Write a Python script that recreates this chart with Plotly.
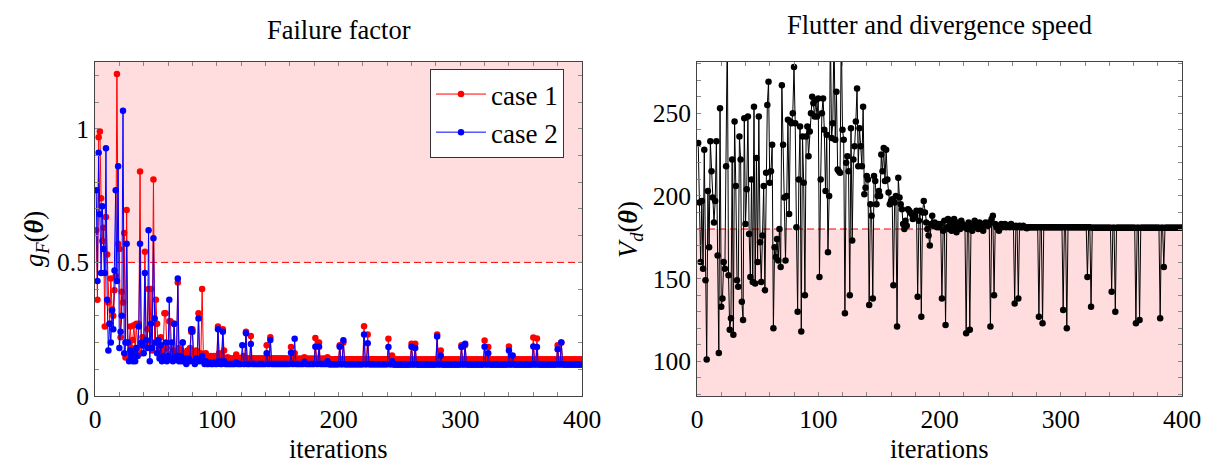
import plotly.graph_objects as go

# ---------------- data ----------------
iterations = list(range(1, 401))

case1_gF = [float(v) for v in """
0.62 0.36 0.968 0.99 0.74 0.58 0.63 0.26 0.67 0.53 0.35 0.27 0.44 0.325 0.30 0.396 0.45 1.205 0.57 0.55
0.22 0.39 0.35 0.61 0.144 0.696 0.15 0.20 0.26 0.18 0.21 0.265 0.17 0.27 0.18 0.27 0.84 0.16 0.22 0.19
0.54 0.20 0.25 0.40 0.18 0.40 0.17 0.81 0.20 0.36 0.27 0.16 0.18 0.22 0.15 0.17 0.31 0.31 0.18 0.15
0.28 0.28 0.16 0.17 0.27 0.15 0.16 0.425 0.18 0.15 0.17 0.20 0.15 0.16 0.14 0.17 0.15 0.18 0.24 0.25
0.16 0.15 0.17 0.14 0.31 0.15 0.16 0.40 0.15 0.14 0.16 0.15 0.14 0.14 0.15 0.14 0.14 0.15 0.14 0.14
0.26 0.16 0.14 0.15 0.25 0.17 0.14 0.14 0.145 0.14 0.14 0.14 0.14 0.14 0.14 0.155 0.14 0.14 0.14 0.14
0.14 0.15 0.14 0.24 0.14 0.14 0.14 0.225 0.14 0.14 0.14 0.14 0.14 0.14 0.14 0.14 0.14 0.14 0.14 0.14
0.19 0.14 0.14 0.22 0.14 0.14 0.14 0.14 0.14 0.14 0.14 0.14 0.14 0.14 0.14 0.14 0.14 0.139 0.139 0.139
0.183 0.139 0.139 0.16 0.139 0.139 0.139 0.139 0.139 0.139 0.139 0.145 0.139 0.139 0.139 0.139 0.139 0.139 0.139 0.139
0.217 0.139 0.139 0.20 0.139 0.139 0.139 0.139 0.139 0.139 0.145 0.138 0.138 0.138 0.138 0.138 0.138 0.138 0.138 0.138
0.19 0.138 0.138 0.20 0.138 0.138 0.138 0.138 0.138 0.138 0.138 0.138 0.138 0.138 0.138 0.138 0.138 0.138 0.138 0.138
0.261 0.138 0.138 0.23 0.138 0.138 0.138 0.138 0.138 0.138 0.138 0.138 0.138 0.138 0.138 0.138 0.138 0.138 0.138 0.138
0.214 0.138 0.138 0.152 0.137 0.137 0.137 0.137 0.137 0.137 0.137 0.137 0.137 0.137 0.137 0.137 0.137 0.137 0.137 0.196
0.137 0.137 0.196 0.137 0.137 0.137 0.137 0.137 0.137 0.137 0.137 0.137 0.137 0.137 0.137 0.137 0.137 0.137 0.137 0.137
0.23 0.137 0.137 0.17 0.137 0.137 0.137 0.137 0.137 0.137 0.137 0.137 0.137 0.137 0.137 0.137 0.137 0.137 0.137 0.137
0.19 0.137 0.137 0.19 0.137 0.137 0.137 0.137 0.137 0.137 0.137 0.137 0.137 0.137 0.137 0.137 0.137 0.137 0.137 0.208
0.137 0.137 0.183 0.137 0.137 0.137 0.137 0.137 0.137 0.137 0.137 0.137 0.137 0.137 0.137 0.137 0.137 0.137 0.137 0.185
0.137 0.137 0.15 0.137 0.137 0.137 0.137 0.137 0.137 0.137 0.137 0.137 0.137 0.137 0.137 0.137 0.137 0.137 0.137 0.219
0.137 0.137 0.215 0.137 0.137 0.137 0.137 0.137 0.137 0.137 0.137 0.137 0.137 0.137 0.137 0.137 0.137 0.137 0.137 0.19
0.137 0.137 0.2 0.137 0.137 0.137 0.137 0.137 0.137 0.137 0.137 0.137 0.137 0.137 0.137 0.137 0.137 0.137 0.137 0.137
""".split()]

case2_gF = [float(v) for v in """
0.77 0.43 0.91 0.68 0.46 0.71 0.55 0.46 0.927 0.36 0.17 0.27 0.20 0.32 0.25 0.47 0.77 0.43 0.86 0.18
0.24 0.30 1.068 0.16 0.20 0.57 0.20 0.13 0.17 0.15 0.13 0.16 0.13 0.18 0.15 0.26 0.57 0.20 0.19 0.16
0.46 0.21 0.18 0.62 0.13 0.27 0.18 0.59 0.29 0.20 0.16 0.21 0.14 0.19 0.13 0.15 0.14 0.20 0.13 0.15
0.36 0.14 0.20 0.13 0.27 0.14 0.15 0.44 0.13 0.15 0.13 0.20 0.13 0.14 0.12 0.13 0.14 0.13 0.25 0.24
0.13 0.12 0.14 0.13 0.29 0.13 0.14 0.15 0.13 0.12 0.13 0.12 0.12 0.125 0.12 0.12 0.12 0.125 0.12 0.12
0.25 0.13 0.12 0.12 0.24 0.13 0.12 0.12 0.12 0.12 0.12 0.12 0.12 0.12 0.12 0.125 0.12 0.12 0.12 0.12
0.19 0.12 0.12 0.235 0.12 0.12 0.12 0.195 0.12 0.12 0.12 0.12 0.12 0.12 0.12 0.12 0.12 0.12 0.12 0.12
0.16 0.12 0.12 0.21 0.12 0.12 0.12 0.12 0.12 0.12 0.12 0.12 0.12 0.12 0.12 0.12 0.12 0.12 0.12 0.12
0.162 0.12 0.12 0.214 0.12 0.12 0.12 0.12 0.12 0.12 0.12 0.128 0.12 0.12 0.12 0.12 0.12 0.12 0.12 0.12
0.184 0.12 0.12 0.184 0.12 0.12 0.12 0.12 0.12 0.12 0.13 0.119 0.119 0.119 0.119 0.119 0.119 0.119 0.119 0.119
0.184 0.119 0.119 0.209 0.119 0.119 0.119 0.119 0.119 0.119 0.119 0.119 0.119 0.119 0.119 0.119 0.119 0.119 0.119 0.119
0.23 0.119 0.119 0.197 0.119 0.119 0.119 0.119 0.119 0.119 0.119 0.119 0.119 0.119 0.119 0.119 0.119 0.119 0.119 0.119
0.183 0.119 0.119 0.13 0.118 0.118 0.118 0.118 0.118 0.118 0.118 0.118 0.118 0.118 0.118 0.118 0.118 0.118 0.118 0.184
0.118 0.118 0.18 0.118 0.118 0.118 0.118 0.118 0.118 0.118 0.118 0.118 0.118 0.118 0.118 0.118 0.118 0.118 0.118 0.118
0.223 0.118 0.118 0.152 0.118 0.118 0.118 0.118 0.118 0.118 0.118 0.118 0.118 0.118 0.118 0.118 0.118 0.118 0.118 0.118
0.183 0.118 0.118 0.196 0.118 0.118 0.118 0.118 0.118 0.118 0.118 0.118 0.118 0.118 0.118 0.118 0.118 0.118 0.118 0.184
0.118 0.118 0.16 0.118 0.118 0.118 0.118 0.118 0.118 0.118 0.118 0.118 0.118 0.118 0.118 0.118 0.118 0.118 0.118 0.17
0.118 0.118 0.152 0.118 0.118 0.118 0.118 0.118 0.118 0.118 0.118 0.118 0.118 0.118 0.118 0.118 0.118 0.118 0.118 0.185
0.118 0.118 0.183 0.118 0.118 0.118 0.118 0.118 0.118 0.118 0.118 0.118 0.118 0.118 0.118 0.118 0.118 0.118 0.118 0.175
0.118 0.118 0.2 0.118 0.118 0.118 0.118 0.118 0.118 0.118 0.118 0.118 0.118 0.118 0.118 0.118 0.118 0.118 0.118 0.118
""".split()]

speed_Vd = [float(v) for v in """
232 196 160 197 156 228 149 101 203 169 233 215 199 184 197 233 164 105 253 133
138 160 156 218 300 152 119 126 222 116 245 206 149 145 236 222 136 125 247 183
204 248 177 151 210 148 254 147 223 160 248 172 148 176 206 143 214 255 269 208
215 231 120 169 163 174 161 180 157 267 231 199 161 200 246 189 245 244 250 278
244 181 130 210 242 118 236 208 140 236 242 224 239 250 260 256 248 258 248 259
151 210 250 259 240 203 237 166 200 300 235 244 300 234 263 216 215 214 300 240
234 129 220 224 215 140 241 173 222 230 245 265 218 241 230 218 254 201 205 212
210 134 195 188 138 212 209 195 200 203 200 225 215 229 209 228 210 202 195 197
198 146 196 200 121 211 199 195 192 183 180 185 182 192 191 190 189 186 187 188
191 139 185 191 127 190 197 190 184 180 176 170 183 188 182 184 182 181 183 181
183 138 179 185 122 181 186 180 184 179 183 186 181 178 184 182 180 185 183 181
182 117 180 184 119 182 179 183 185 181 182 180 184 183 181 179 182 184 183 182
184 121 186 188 140 183 181 182 179 182 183 181 182 183 181 182 182 181 183 182
181 135 182 181 138 182 181 181 182 181 181 180.5 181 181 181 181 181 181 181 181
181 127 181 181 123 181 181 181 181 181 181 181 181 181 181 181 181 181 181 181
181 131 181 181 120 181 181 181 181 181 181 181 181 181 181 181 181 181 181 181
181 151 181 181 133 180.8 180.8 180.8 180.8 180.8 180.8 180.8 180.8 180.8 180.8 180.8 180.8 180.8 180.8 180.8
180.8 142 180.8 180.8 130 180.8 180.8 180.8 180.8 180.8 180.8 180.8 180.8 180.8 180.8 180.8 180.8 180.8 180.8 180.8
180.8 123 180.8 180.8 125 180.8 180.8 180.8 180.8 180.8 180.8 180.8 180.8 180.8 180.8 180.8 180.8 180.8 180.8 180.8
180.8 126 180.8 180.8 157 180.8 180.8 180.8 180.8 180.8 180.8 180.8 180.8 180.8 180.8 180.8 180.8 180.8 180.8 180.8
""".split()]

gF_limit = 0.5
Vd_limit = 180

# ---------------- figure ----------------
W, H = 1205, 465
FONT = "Liberation Serif, Times New Roman, serif"
PINK = "rgb(255,221,222)"
FS_TICK = 25.5
FS_TEXT = 26.5
FS_LEG = 27

def px_x(p):
    return p / W

def px_y(p):
    return 1 - p / H

fig = go.Figure()
fig.add_trace(go.Scatter(x=iterations, y=case1_gF, mode="lines+markers", name="case 1",
                         line=dict(color="#ff0000", width=1), marker=dict(color="#ff0000", size=6.5),
                         xaxis="x", yaxis="y"))
fig.add_trace(go.Scatter(x=iterations, y=case2_gF, mode="lines+markers", name="case 2",
                         line=dict(color="#0000ff", width=1), marker=dict(color="#0000ff", size=6.5),
                         xaxis="x", yaxis="y"))
fig.add_trace(go.Scatter(x=iterations, y=speed_Vd, mode="lines+markers", showlegend=False,
                         line=dict(color="#000000", width=1), marker=dict(color="#000000", size=6.5),
                         xaxis="x2", yaxis="y2"))

axis_common = dict(showline=True, linecolor="#444444", linewidth=1, mirror="allticks",
                   ticks="inside", ticklen=4, tickcolor="#888888", tickwidth=1,
                   showgrid=False, zeroline=False, automargin=False,
                   tickfont=dict(family=FONT, size=FS_TICK, color="black"))

ydom = [px_y(396), px_y(62)]
fig.update_layout(
    width=W, height=H, margin=dict(l=0, r=0, t=0, b=0, autoexpand=False),
    paper_bgcolor="white", plot_bgcolor="white",
    xaxis=dict(domain=[px_x(95), px_x(582)], range=[0, 400], tick0=0, dtick=100, anchor="y",
               minor=dict(dtick=20, ticks="inside", ticklen=4, tickcolor="#888888", showgrid=False),
               **axis_common),
    yaxis=dict(domain=ydom, range=[0, 1.25], tick0=0, dtick=0.5, anchor="x",
               minor=dict(dtick=0.1, ticks="inside", ticklen=4, tickcolor="#888888", showgrid=False),
               **axis_common),
    xaxis2=dict(domain=[px_x(697), px_x(1182)], range=[0, 400], tick0=0, dtick=100, anchor="y2",
                minor=dict(dtick=20, ticks="inside", ticklen=4, tickcolor="#888888", showgrid=False),
                **axis_common),
    yaxis2=dict(domain=ydom, range=[79, 281], tick0=0, dtick=50, anchor="x2",
                minor=dict(dtick=10, ticks="inside", ticklen=4, tickcolor="#888888", showgrid=False),
                **axis_common),
    legend=dict(x=px_x(564), y=px_y(69), xanchor="right", yanchor="top",
                bgcolor="white", bordercolor="#333333", borderwidth=1,
                font=dict(family=FONT, size=FS_LEG, color="black"), itemwidth=50,
                tracegroupgap=0),
    font=dict(family=FONT, size=FS_TEXT, color="black"),
    showlegend=True,
)

fig.add_shape(type="rect", xref="x", yref="y", x0=0, x1=400, y0=gF_limit, y1=1.25,
              fillcolor=PINK, line=dict(width=0), layer="below")
fig.add_shape(type="line", xref="x", yref="y", x0=0, x1=400, y0=gF_limit, y1=gF_limit,
              line=dict(color="#ff0000", width=1, dash="7px,4px"), layer="below")
fig.add_shape(type="rect", xref="x2", yref="y2", x0=0, x1=400, y0=79, y1=Vd_limit,
              fillcolor=PINK, line=dict(width=0), layer="below")
fig.add_shape(type="line", xref="x2", yref="y2", x0=0, x1=400, y0=Vd_limit, y1=Vd_limit,
              line=dict(color="#ff0000", width=1, dash="7px,4px"), layer="below")

def note(text, x, y, angle=0, yanchor="middle"):
    fig.add_annotation(text=text, x=px_x(x), y=px_y(y), xref="paper", yref="paper",
                       showarrow=False, textangle=angle, xanchor="center", yanchor=yanchor,
                       borderpad=0,
                       font=dict(family=FONT, size=FS_TEXT, color="black"))

note("Failure factor", 338.5, 30)
note("Flutter and divergence speed", 939.5, 25)
note("iterations", 338.5, 465, yanchor="bottom")
note("iterations", 939.5, 465, yanchor="bottom")
note("<i>g<sub>F</sub></i>(<b><i>θ</i></b>)", 36, 239, -90)
note("<i>V<sub>d</sub></i>(<b><i>θ</i></b>)", 630, 230, -90)

fig.write_html("out.html",
               config={"displayModeBar": False},
               post_script="document.body.style.margin='0px';"
                           "document.documentElement.style.overflow='hidden';")
